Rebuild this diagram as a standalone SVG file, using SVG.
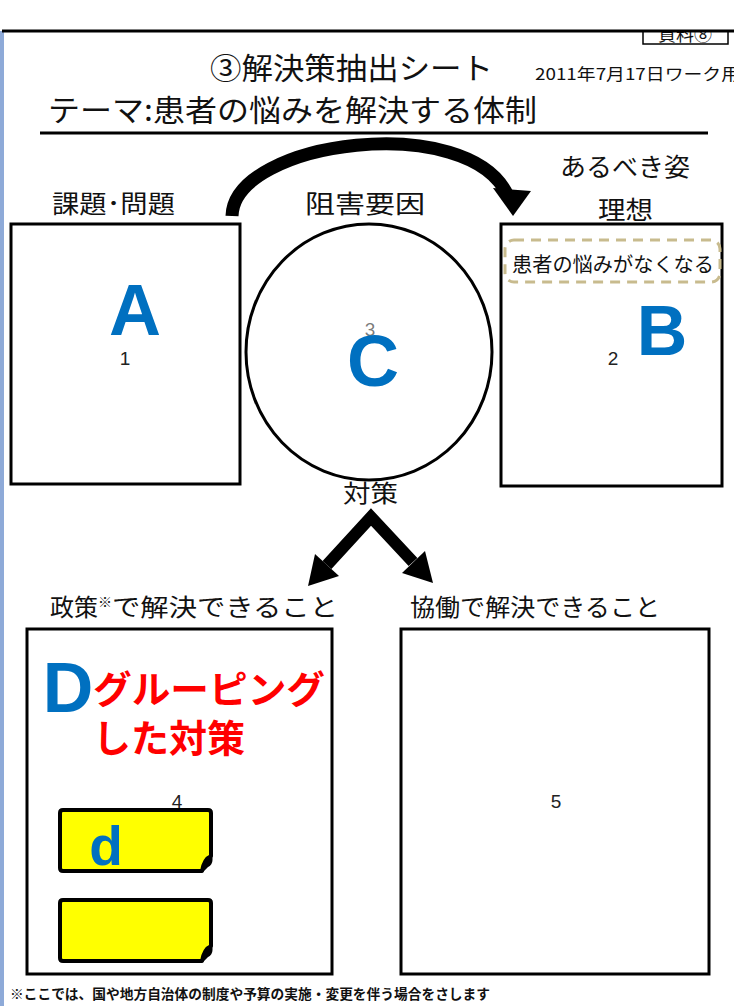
<svg xmlns="http://www.w3.org/2000/svg" width="734" height="1006" viewBox="0 0 734 1006">
<defs>
<style>
.t{font-family:"Noto Sans CJK JP","Noto Sans",sans-serif;fill:#111;}
.box{fill:#fff;stroke:#000;stroke-width:3;}
.big{font-family:"Liberation Sans",Arial,sans-serif;font-weight:bold;fill:#0070c0;}
.num{font-family:"Liberation Sans",Arial,sans-serif;fill:#222;font-size:19px;}
.red{font-family:"Noto Sans CJK JP",sans-serif;font-weight:bold;fill:#ff0000;font-size:38px;}
.note{fill:#ffff00;stroke:#000;stroke-width:4;stroke-linejoin:round;}
</style>
</defs>
<rect width="734" height="1006" fill="#fff"/>
<g id="doc-tag">
<rect x="643" y="18" width="85" height="26" fill="#fff" stroke="#000" stroke-width="1.5"/>
<text class="t" x="685" y="41" font-size="18" text-anchor="middle">資料⑧</text>
<rect x="0" y="0" width="734" height="31" fill="#fff"/>
</g>
<rect x="0" y="31" width="4" height="975" fill="#8eaad8"/>
<line x1="2" y1="31" x2="734" y2="31" stroke="#000" stroke-width="3"/>
<g id="header">
<text class="t" x="210" y="79" font-size="30" textLength="283" lengthAdjust="spacingAndGlyphs">③解決策抽出シート</text>
<text class="t" x="535" y="80" font-size="16" textLength="205" lengthAdjust="spacingAndGlyphs">2011年7月17日ワーク用</text>
<text class="t" x="48" y="121" font-size="30" textLength="489" lengthAdjust="spacingAndGlyphs">テーマ:患者の悩みを解決する体制</text>
<line x1="40" y1="133" x2="708" y2="133" stroke="#000" stroke-width="3"/>
</g>
<g id="labels">
<text class="t" x="52" y="213" font-size="25" textLength="123" lengthAdjust="spacingAndGlyphs">課題･問題</text>
<text class="t" x="305" y="213" font-size="25" textLength="120" lengthAdjust="spacingAndGlyphs">阻害要因</text>
<text class="t" x="560" y="176" font-size="25" textLength="130" lengthAdjust="spacingAndGlyphs">あるべき姿</text>
<text class="t" x="598" y="219" font-size="25" textLength="55" lengthAdjust="spacingAndGlyphs">理想</text>
<text class="t" x="343" y="502" font-size="24" textLength="55" lengthAdjust="spacingAndGlyphs">対策</text>
<text class="t" x="50" y="616" font-size="24">政策<tspan font-size="14" dy="-9">※</tspan><tspan dy="9" textLength="226" lengthAdjust="spacingAndGlyphs">で解決できること</tspan></text>
<text class="t" x="410" y="616" font-size="24" textLength="250" lengthAdjust="spacingAndGlyphs">協働で解決できること</text>
</g>
<g id="node-A">
<rect class="box" x="11" y="224" width="229" height="260"/>
<text class="big" x="135" y="335" font-size="72" text-anchor="middle">A</text>
<text class="num" x="125" y="365" text-anchor="middle">1</text>
</g>
<g id="node-C">
<ellipse cx="369" cy="352" rx="123" ry="128" fill="#fff" stroke="#000" stroke-width="3"/>
<text class="num" x="370" y="336" text-anchor="middle" fill-opacity="0.6">3</text>
<text class="big" x="373" y="386" font-size="72" text-anchor="middle">C</text>
</g>
<g id="node-B">
<rect class="box" x="501" y="224" width="221" height="262"/>
<rect x="505" y="240" width="215" height="42" rx="9" fill="none" stroke="#c8bb8e" stroke-width="3" stroke-dasharray="10,7"/>
<text class="t" x="512" y="272" font-size="20" textLength="202" lengthAdjust="spacingAndGlyphs">患者の悩みがなくなる</text>
<text class="big" x="662" y="355" font-size="70" text-anchor="middle">B</text>
<text class="num" x="613" y="365" text-anchor="middle">2</text>
</g>
<g id="node-D">
<rect class="box" x="27" y="629" width="305" height="345"/>
<text class="big" x="68" y="712" font-size="70" text-anchor="middle">D</text>
<text class="red" x="93" y="703" textLength="232" lengthAdjust="spacingAndGlyphs">グルーピング</text>
<text class="red" x="93" y="752" textLength="152" lengthAdjust="spacingAndGlyphs">した対策</text>
<text class="num" x="177" y="808" text-anchor="middle">4</text>
</g>
<g id="note-d1">
<path class="note" d="M63 810 H208 Q211 810 211 813 V856 Q204 859 202 871 H63 Q60 871 60 868 V813 Q60 810 63 810 Z"/>
<path d="M211 856 Q205 859 202 871 L207 866 Q211 864 211 860 Z" fill="#000" stroke="#000" stroke-width="3" stroke-linejoin="round"/>
<text class="big" x="106" y="865" font-size="55" text-anchor="middle" font-weight="normal">d</text>
</g>
<g id="note-d2">
<path class="note" d="M63 900 H208 Q211 900 211 903 V946 Q204 949 202 961 H63 Q60 961 60 958 V903 Q60 900 63 900 Z"/>
<path d="M211 946 Q205 949 202 961 L207 956 Q211 954 211 950 Z" fill="#000" stroke="#000" stroke-width="3" stroke-linejoin="round"/>
</g>
<g id="node-5">
<rect class="box" x="401" y="629" width="308" height="345"/>
<text class="num" x="556" y="808" text-anchor="middle">5</text>
</g>
<g id="connectors">
<path d="M232 216 C234 140, 470 110, 508 196" fill="none" stroke="#000" stroke-width="13"/>
<polygon points="493,188 531,191 513,216" fill="#000"/>
<polyline points="327,565 371,517 413,562" fill="none" stroke="#000" stroke-width="12" stroke-linejoin="miter"/>
<polygon points="308,586 339,576 315,554" fill="#000"/>
<polygon points="433,583 402,573 425,551" fill="#000"/>
</g>
<g id="footnote">
<text class="t" x="10" y="999" font-size="13.5" font-weight="bold" textLength="480" lengthAdjust="spacingAndGlyphs">※ここでは、国や地方自治体の制度や予算の実施・変更を伴う場合をさします</text>
</g>
</svg>
